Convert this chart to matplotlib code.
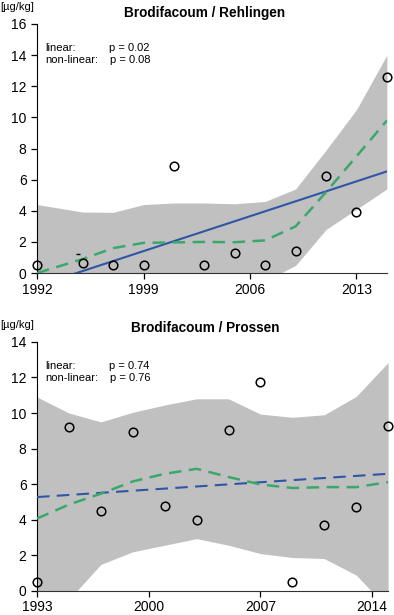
import numpy as np
import matplotlib.pyplot as plt

plt.rcParams['font.family'] = ['Liberation Sans', 'DejaVu Sans']

# Brodifacoum / Rehlingen
rehl_years = [1992, 1995, 1997, 1999, 2001, 2003, 2005, 2007, 2009, 2011, 2013, 2015]
rehl_vals = [0.53, 0.66, 0.53, 0.53, 6.85, 0.53, 1.28, 0.53, 1.43, 6.23, 3.9, 12.6]
rehl_smooth = [0.0, 0.9, 1.6, 1.94, 1.97, 2.0, 1.98, 2.1, 3.0, 5.2, 7.5, 9.8]
rehl_upper = [4.4, 3.92, 3.9, 4.4, 4.5, 4.5, 4.45, 4.6, 5.4, 7.9, 10.5, 14.0]
rehl_lower = [-2.0, -2.0, -2.0, -2.0, -2.0, -1.5, -1.0, -0.5, 0.49, 2.8, 4.1, 5.4]
rehl_lin_years = [1992, 2015]
rehl_lin = [-0.83, 6.53]
rehl_p = ["0.02", "0.08"]

# Brodifacoum / Prossen
pros_years = [1993, 1995, 1997, 1999, 2001, 2003, 2005, 2007, 2009, 2011, 2013, 2015]
pros_vals = [0.5, 9.23, 4.49, 8.92, 4.75, 4.0, 9.05, 11.76, 0.5, 3.72, 4.71, 9.29]
pros_smooth = [4.06, 4.85, 5.46, 6.15, 6.58, 6.86, 6.4, 5.98, 5.78, 5.83, 5.83, 6.11]
pros_upper = [10.9, 10.0, 9.5, 10.04, 10.45, 10.8, 10.8, 9.94, 9.76, 9.9, 10.93, 12.84]
pros_lower = [-2.0, -0.5, 1.48, 2.19, 2.56, 2.93, 2.56, 2.09, 1.87, 1.81, 0.88, -1.0]
pros_lin_years = [1993, 2015]
pros_lin = [5.27, 6.58]
pros_p = ["0.74", "0.76"]

band_col = '#c0c0c0'
blue = '#2f56a6'
green = '#3aa86c'

fig = plt.figure(figsize=(3.94, 6.15), dpi=100)
ax1 = fig.add_axes([0.094, 0.556, 0.888, 0.405])
ax2 = fig.add_axes([0.094, 0.0395, 0.891, 0.4045])


def panel(ax, title, title_y, years, vals, smooth, upper, lower, lin_years,
          lin, pvals, ymax, xticks, lin_style):
    ax.fill_between(years, lower, upper, color=band_col, lw=0, zorder=1)
    ax.plot(lin_years, lin, color=blue, lw=1.5, ls=lin_style, zorder=3)
    ax.plot(years, smooth, color=green, lw=1.8, dashes=(5, 3), zorder=3)
    ax.plot(years, vals, 'o', mfc='none', mec='black', ms=6.2, mew=1.1,
            zorder=4, clip_on=False)
    ax.set_xlim(years[0], years[-1])
    ax.set_ylim(0, ymax)
    ax.set_yticks(np.arange(0, ymax + 1, 2))
    ax.set_xticks(xticks)
    for s in ['top', 'right']:
        ax.spines[s].set_visible(False)
    ax.spines['bottom'].set_color('#333333')
    ax.tick_params(labelsize=10, length=4, width=0.9)
    ax.tick_params(axis='x', pad=3)
    ax.text(0.48, title_y, title, transform=ax.transAxes, ha='center',
            va='center', fontsize=9.8, fontweight='bold')
    ax.text(-0.106, 1.068, '[µg/kg]', transform=ax.transAxes, ha='left',
            va='center', fontsize=8)
    ax.text(0.023, 0.905, 'linear:', transform=ax.transAxes, fontsize=8,
            va='center')
    ax.text(0.023, 0.855, 'non-linear:', transform=ax.transAxes, fontsize=8,
            va='center')
    ax.text(0.205, 0.905, 'p = ' + pvals[0], transform=ax.transAxes,
            fontsize=8, va='center')
    ax.text(0.208, 0.855, 'p = ' + pvals[1], transform=ax.transAxes,
            fontsize=8, va='center')


panel(ax1, 'Brodifacoum / Rehlingen', 1.044, rehl_years, rehl_vals,
      rehl_smooth, rehl_upper, rehl_lower, rehl_lin_years, rehl_lin, rehl_p,
      16, [1992, 1999, 2006, 2013], '-')
# small stray mark above the 1995 point
ax1.plot([1994.7], [1.2], marker='_', color='black', ms=3, mew=1, zorder=4)

panel(ax2, 'Brodifacoum / Prossen', 1.058, pros_years, pros_vals,
      pros_smooth, pros_upper, pros_lower, pros_lin_years, pros_lin, pros_p,
      14, [1993, 2000, 2007, 2014], (0, (6, 3.5)))

fig.savefig('out.png', dpi=100)
